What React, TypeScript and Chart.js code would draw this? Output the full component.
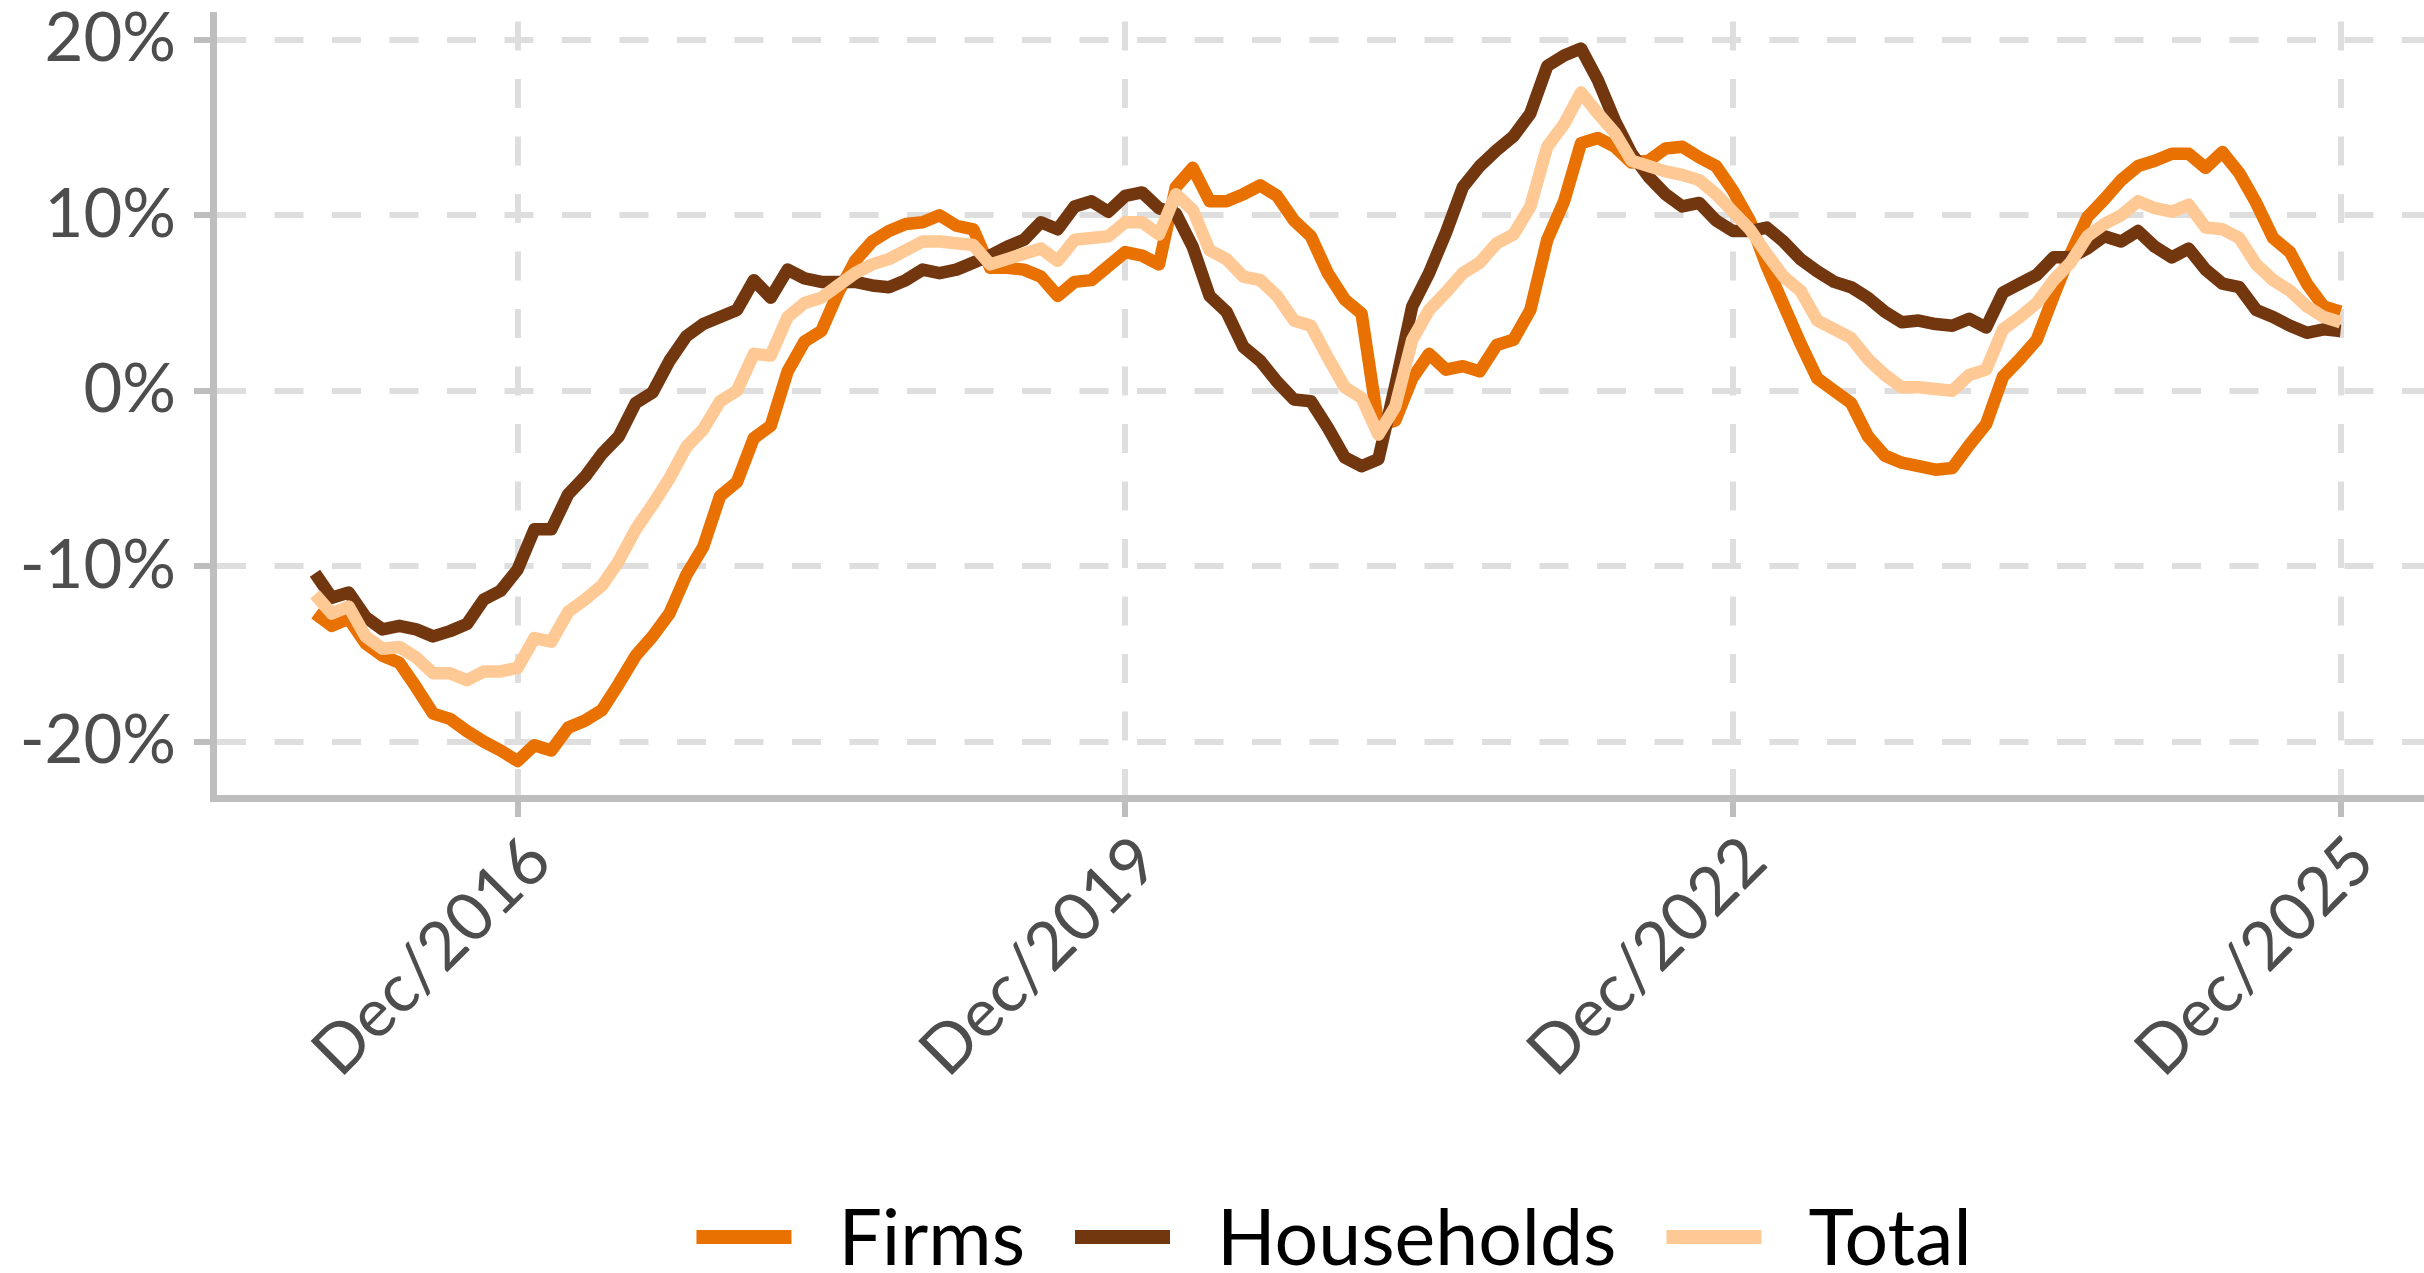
import React, { useEffect, useRef } from "react";
import { Chart, registerables } from "chart.js";

Chart.register(...registerables);

// Monthly index: 0 = Dec/2015 ... 120 = Dec/2025
const SERIES_NAMES = ["Firms", "Households", "Total"];
const SERIES_COLORS = ["#E97101", "#733710", "#FFC995"];

const firms = [
  -12.7, -13.4, -13.0, -14.4, -15.1, -15.5, -16.9, -18.4, -18.7, -19.4,
  -20.0, -20.5, -21.1, -20.2, -20.5, -19.2, -18.8, -18.2, -16.7, -15.1,
  -14.0, -12.7, -10.5, -8.9, -6.0, -5.2, -2.7, -2.0, 1.1, 2.8,
  3.4, 5.6, 7.4, 8.5, 9.1, 9.5, 9.6, 10.0, 9.4, 9.2,
  7.0, 7.0, 6.9, 6.5, 5.4, 6.2, 6.3, 7.1, 7.9, 7.7,
  7.2, 11.6, 12.7, 10.8, 10.8, 11.2, 11.7, 11.1, 9.7, 8.8,
  6.7, 5.2, 4.4, -2.0, -1.7, 0.7, 2.1, 1.2, 1.4, 1.1,
  2.6, 2.9, 4.6, 8.6, 10.8, 14.1, 14.4, 13.9, 13.0, 13.1,
  13.8, 13.9, 13.3, 12.8, 11.4, 9.7, 7.1, 4.9, 2.7, 0.7,
  0.0, -0.7, -2.6, -3.7, -4.1, -4.3, -4.5, -4.4, -3.1, -1.9,
  0.8, 1.8, 2.9, 5.4, 7.8, 9.9, 10.9, 12.0, 12.8, 13.1,
  13.5, 13.5, 12.7, 13.6, 12.4, 10.7, 8.7, 7.9, 6.1, 4.8,
  4.5,
];

const households = [
  -10.4, -11.8, -11.5, -12.9, -13.6, -13.4, -13.6, -14.0, -13.7, -13.3,
  -11.9, -11.4, -10.2, -7.9, -7.9, -5.9, -4.9, -3.6, -2.6, -0.7,
  -0.1, 1.7, 3.1, 3.8, 4.2, 4.6, 6.3, 5.3, 6.9, 6.4,
  6.2, 6.2, 6.2, 6.0, 5.9, 6.3, 6.9, 6.7, 6.9, 7.3,
  7.7, 8.2, 8.6, 9.6, 9.2, 10.5, 10.8, 10.2, 11.1, 11.3,
  10.4, 10.1, 8.2, 5.4, 4.5, 2.5, 1.7, 0.5, -0.5, -0.6,
  -2.1, -3.8, -4.3, -3.9, 0.3, 4.8, 6.7, 9.0, 11.6, 12.8,
  13.7, 14.5, 15.8, 18.5, 19.1, 19.5, 17.7, 15.4, 13.5, 12.2,
  11.2, 10.5, 10.7, 9.7, 9.1, 9.1, 9.3, 8.5, 7.5, 6.8,
  6.2, 5.9, 5.3, 4.5, 3.9, 4.0, 3.8, 3.7, 4.1, 3.6,
  5.6, 6.1, 6.6, 7.6, 7.6, 8.1, 8.8, 8.5, 9.1, 8.2,
  7.6, 8.1, 6.9, 6.1, 5.9, 4.6, 4.2, 3.7, 3.3, 3.5,
  3.4,
];

const total = [
  -11.6, -12.7, -12.3, -14.0, -14.7, -14.6, -15.2, -16.1, -16.1, -16.5,
  -16.0, -16.0, -15.8, -14.1, -14.3, -12.6, -11.9, -11.1, -9.7, -7.9,
  -6.5, -5.0, -3.2, -2.2, -0.6, 0.0, 2.1, 2.0, 4.2, 5.0,
  5.3, 6.0, 6.7, 7.2, 7.5, 8.0, 8.5, 8.5, 8.4, 8.3,
  7.2, 7.5, 7.8, 8.1, 7.4, 8.6, 8.7, 8.8, 9.6, 9.6,
  8.9, 11.2, 10.3, 8.0, 7.5, 6.5, 6.3, 5.4, 4.0, 3.7,
  1.9, 0.2, -0.4, -2.5, -0.9, 2.9, 4.6, 5.6, 6.7, 7.3,
  8.4, 8.9, 10.5, 13.9, 15.2, 17.0, 15.8, 14.7, 13.1, 12.8,
  12.5, 12.3, 12.0, 11.2, 10.2, 9.2, 7.8, 6.5, 5.7, 4.0,
  3.5, 3.0, 1.8, 0.9, 0.2, 0.2, 0.1, 0.0, 0.9, 1.2,
  3.5, 4.2, 5.0, 6.3, 7.3, 8.8, 9.5, 10.0, 10.8, 10.4,
  10.2, 10.6, 9.3, 9.2, 8.7, 7.2, 6.3, 5.7, 4.8, 4.2,
  3.9,
];

const X_TICK_POSITIONS = [12, 48, 84, 120];
const X_TICK_LABELS = ["Dec/2016", "Dec/2019", "Dec/2022", "Dec/2025"];
const Y_TICKS = [-20, -10, 0, 10, 20];

const W = 2424;
const H = 1273;

const legendPlugin = {
  id: "bottomLegend",
  afterDraw(chart: any) {
    const ctx = chart.ctx as CanvasRenderingContext2D;
    const fontSize = 77;
    const swatchW = 95;
    const swatchH = 14;
    const gapText = 47;
    const gapItem = 50;
    const centerX = 1334;
    const centerY = 1237;
    const baseline = 1265;
    ctx.save();
    ctx.font = `${fontSize}px Lato`;
    const items = chart.data.datasets.map((d: any) => ({
      label: d.label as string,
      color: d.borderColor as string,
      w: ctx.measureText(d.label).width,
    }));
    const totalW =
      items.reduce((s: number, it: any) => s + swatchW + gapText + it.w, 0) +
      gapItem * (items.length - 1);
    let x = centerX - totalW / 2;
    for (const it of items) {
      ctx.fillStyle = it.color;
      ctx.fillRect(x, centerY - swatchH / 2, swatchW, swatchH);
      x += swatchW + gapText;
      ctx.fillStyle = "#000000";
      ctx.textBaseline = "alphabetic";
      ctx.textAlign = "left";
      ctx.fillText(it.label, x, baseline);
      x += it.w + gapItem;
    }
    ctx.restore();
  },
};

export default function App() {
  const ref = useRef<HTMLCanvasElement | null>(null);

  useEffect(() => {
    if (!ref.current) return;
    const seriesValues = [firms, households, total];
    const chart = new Chart(ref.current, {
      type: "line",
      data: {
        datasets: SERIES_NAMES.map((name, k) => ({
          label: name,
          data: seriesValues[k].map((v, i) => ({ x: i, y: v })),
          borderColor: SERIES_COLORS[k],
          backgroundColor: SERIES_COLORS[k],
          borderWidth: 12.5,
          borderJoinStyle: "round" as const,
          borderCapStyle: "butt" as const,
          pointRadius: 0,
          tension: 0,
          fill: false,
          order: 3 - k,
        })),
      },
      options: {
        responsive: false,
        animation: false,
        devicePixelRatio: 1,
        layout: { padding: { top: 15, left: 0, right: 0, bottom: 0 } },
        plugins: {
          legend: { display: false },
          tooltip: { enabled: false },
        },
        scales: {
          x: {
            type: "linear",
            min: -6.04,
            max: 124.94,
            afterBuildTicks: (scale: any) => {
              scale.ticks = X_TICK_POSITIONS.map((v) => ({ value: v }));
            },
            afterFit: (scale: any) => {
              scale.height = H - 798;
              scale.paddingLeft = 0;
              scale.paddingRight = 0;
            },
            ticks: {
              autoSkip: false,
              maxRotation: 45,
              minRotation: 45,
              padding: 4,
              labelOffset: 22,
              color: "#4D4D4D",
              font: { family: "Lato", size: 67 },
              callback: (value: any) => {
                const idx = X_TICK_POSITIONS.indexOf(Number(value));
                return idx >= 0 ? X_TICK_LABELS[idx] : "";
              },
            },
            grid: {
              color: "#DEDEDE",
              lineWidth: 6,
              tickColor: "#BEBEBE",
              tickWidth: 6,
              tickLength: 19,
              tickBorderDash: [],
            },
            border: {
              display: true,
              color: "#BEBEBE",
              width: 7,
              dash: [29, 28.5],
              dashOffset: 51,
            },
          },
          y: {
            type: "linear",
            min: -23.21,
            max: 21.41,
            afterBuildTicks: (scale: any) => {
              scale.ticks = Y_TICKS.map((v) => ({ value: v }));
            },
            afterFit: (scale: any) => {
              scale.width = 213;
              scale.paddingTop = 0;
              scale.paddingBottom = 0;
            },
            ticks: {
              padding: 18,
              color: "#4D4D4D",
              font: { family: "Lato", size: 67 },
              callback: (value: any) => `${value}%`,
            },
            grid: {
              color: "#DEDEDE",
              lineWidth: 6,
              tickColor: "#BEBEBE",
              tickWidth: 6,
              tickLength: 19,
              tickBorderDash: [],
            },
            border: {
              display: true,
              color: "#BEBEBE",
              width: 7,
              dash: [29, 28.5],
              dashOffset: 0,
            },
          },
        },
      },
      plugins: [legendPlugin],
    } as any);
    return () => chart.destroy();
  }, []);

  return (
    <div style={{ position: "fixed", left: 0, top: 0, width: W, height: H, background: "#fff" }}>
      <canvas ref={ref} width={W} height={H} style={{ display: "block", width: W, height: H }} />
    </div>
  );
}
